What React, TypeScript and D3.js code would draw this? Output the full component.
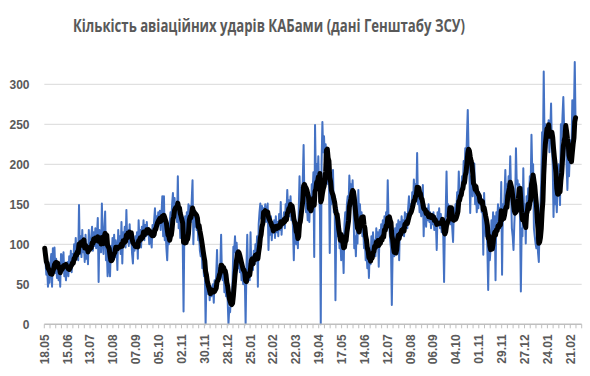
import React from 'react';
import * as d3 from 'd3';

const chartTitle = 'Кількість авіаційних ударів КАБами (дані Генштабу ЗСУ)';

// daily number of guided-bomb strikes, starting 18.05
const dailyStrikes: number[] = [
  95,78,62,70,47,60,52,75,88,47,95,70,96,64,82,58,70,55,75,47,88,85,72,90,60,74,55,68,
  78,60,85,70,92,65,88,76,100,82,108,85,96,80,149,88,110,84,118,90,100,78,112,82,96,75,118,92,
  98,110,122,92,115,98,120,95,112,133,53,118,102,90,151,104,88,120,141,80,95,60,92,72,60,98,80,108,
  88,112,84,105,96,68,118,95,110,88,128,76,115,100,122,96,143,105,118,98,125,102,110,88,76,104,92,110,
  98,115,82,130,104,118,96,122,108,130,105,124,110,128,112,120,100,118,105,96,124,112,130,145,118,135,122,140,
  125,142,118,138,160,110,160,105,118,95,80,112,100,125,140,128,150,164,135,158,140,150,128,185,120,138,108,115,
  120,100,16,118,135,110,140,125,150,132,148,128,155,180,100,138,122,140,118,130,105,112,92,85,98,70,78,60,
  72,0,55,45,38,52,30,48,35,42,50,27,55,45,62,93,50,70,58,72,112,60,55,72,40,58,35,45,
  30,0,20,15,35,28,55,97,90,110,85,102,80,70,88,65,78,55,72,50,68,58,0,70,112,60,75,55,
  115,70,85,68,92,75,100,82,110,47,125,140,151,132,148,138,145,130,150,128,140,151,93,128,112,135,105,125,
  118,130,108,135,115,128,110,138,118,153,112,130,125,140,120,150,138,168,142,155,135,160,130,145,120,80,125,110,
  100,120,95,140,185,150,170,160,180,224,155,165,140,150,130,145,128,160,140,175,165,190,84,249,180,200,175,210,
  165,140,0,200,253,215,235,205,225,190,210,175,190,89,170,150,165,193,140,160,30,130,145,110,120,95,105,80,
  110,95,64,125,140,120,150,160,145,186,165,175,160,180,150,95,110,85,120,101,168,130,150,125,140,110,118,95,
  105,80,90,70,85,58,95,75,110,88,115,95,105,85,120,98,115,72,118,100,125,108,130,110,135,115,140,120,
  180,130,120,105,95,24,90,110,85,120,100,125,110,130,80,128,115,135,118,130,110,140,125,138,120,145,160,135,
  150,140,165,150,181,160,175,155,214,150,160,140,150,135,145,174,110,150,135,122,145,130,150,128,140,120,138,125,
  140,118,135,125,93,140,130,145,120,138,115,130,110,53,125,140,191,135,150,130,148,125,140,120,103,145,135,150,
  140,165,150,191,155,170,160,185,175,204,190,220,200,235,268,215,190,139,185,170,160,175,201,150,165,140,160,145,
  165,150,160,140,155,87,164,130,110,125,95,43,105,80,95,130,110,140,115,135,55,140,125,150,130,145,125,178,
  62,150,135,160,193,150,175,160,185,170,210,165,120,110,93,125,150,220,175,180,160,175,130,41,120,110,195,130,
  150,101,160,145,170,155,185,170,237,190,200,120,110,101,95,115,90,78,130,150,180,240,210,316,230,250,220,245,
  230,255,215,240,276,220,200,134,180,150,165,140,170,200,185,149,250,230,260,284,245,220,250,200,168,210,185,215,
  230,215,280,240,265,328,250,
];

const dayCount = 658; // categories on the axis
const labelStep = 28;
const tickStep = 7;
const tickLabels = [
  '18.05','15.06','13.07','10.08','07.09','05.10','02.11','30.11','28.12','25.01','22.02','22.03',
  '19.04','17.05','14.06','12.07','09.08','06.09','04.10','01.11','29.11','27.12','24.01','21.02',
];
const yTicks = [0, 50, 100, 150, 200, 250, 300];
const maWindow = 7;

export default function App() {
  const W = 590, H = 376;
  const left = 44.3, right = 581.7, bottom = 324.3, top = 84.3;
  const x = d3.scaleLinear().domain([0, dayCount]).range([left, right]);
  const y = d3.scaleLinear().domain([0, 300]).range([bottom, top]);

  const ma = dailyStrikes.map((_, i) =>
    d3.mean(dailyStrikes.slice(Math.max(0, i - maWindow + 1), i + 1)) as number
  );
  const line = d3.line<number>().x((_, i) => x(i + 0.5)).y(d => y(d));

  const ticks = d3.range(0, dayCount + 1, tickStep);

  return (
    <svg width={W} height={H} style={{ position: 'absolute', left: 0, top: 0, background: '#fff' }}
      fontFamily="'Liberation Sans', Arial, sans-serif">
      <rect width={W} height={H} fill="#fff" />
      <text x={269} y={32} textAnchor="middle" fontFamily="'Open Sans', sans-serif" fontWeight={700}
        fontSize={17} fill="#595959" textLength={392} lengthAdjust="spacingAndGlyphs">{chartTitle}</text>
      {yTicks.filter(t => t > 0).map(t => (
        <line key={t} x1={left} x2={right} y1={y(t)} y2={y(t)} stroke="#D9D9D9" strokeWidth={1} />
      ))}
      {yTicks.map(t => (
        <text key={t} x={29.5} y={y(t) + 4.5} textAnchor="end" fontSize={12} fontWeight={700} fill="#595959">{t}</text>
      ))}
      <path d={line(dailyStrikes) || ''} fill="none" stroke="#4472C4" strokeWidth={2} strokeLinejoin="round" />
      <path d={line(ma) || ''} fill="none" stroke="#000" strokeWidth={5} strokeLinejoin="round" strokeLinecap="round" />
      <line x1={left} x2={right} y1={bottom} y2={bottom} stroke="#BFBFBF" strokeWidth={1.5} />
      {ticks.map(t => (
        <line key={t} x1={x(t)} x2={x(t)} y1={bottom} y2={bottom + 4} stroke="#BFBFBF" strokeWidth={1} />
      ))}
      {tickLabels.map((lab, i) => {
        const cx = x(i * labelStep + 0.5) + 4;
        const ty = bottom + 10;
        return (
          <text key={lab + i} transform={`translate(${cx},${ty}) rotate(-90)`} textAnchor="end"
            fontSize={12} fontWeight={700} fill="#595959">{lab}</text>
        );
      })}
    </svg>
  );
}
